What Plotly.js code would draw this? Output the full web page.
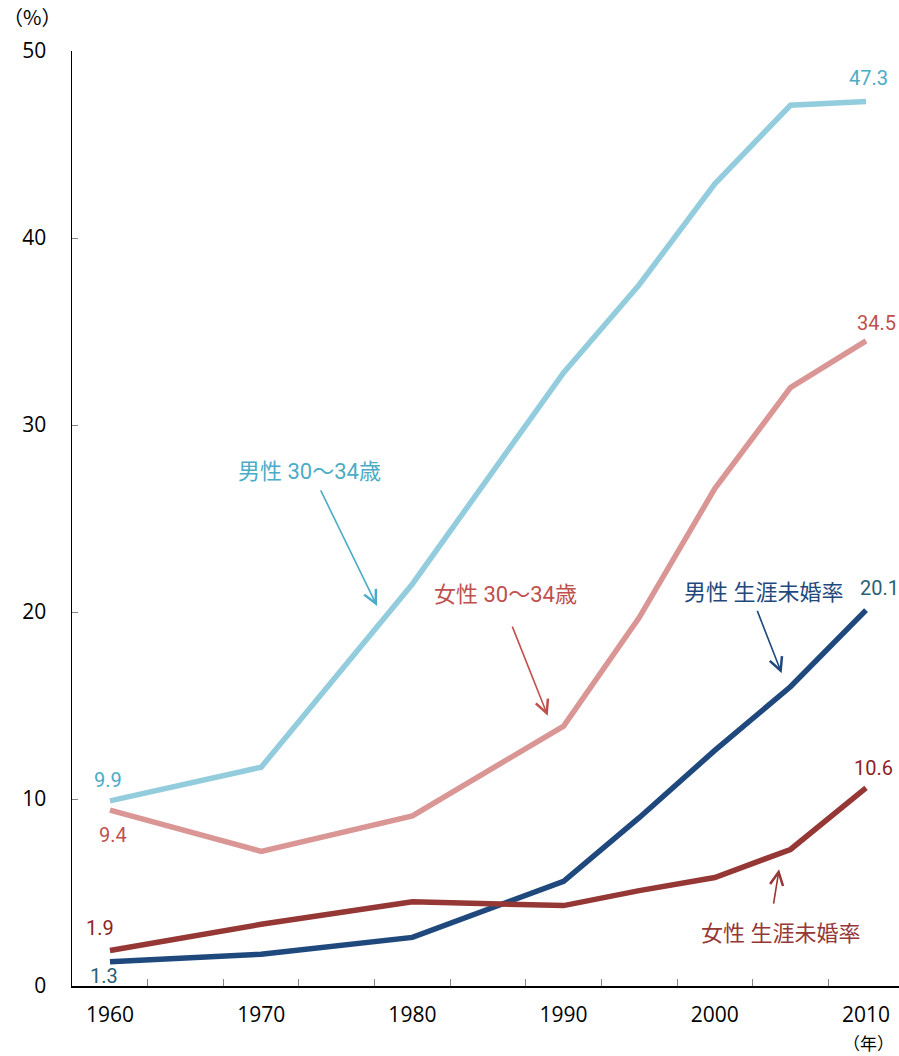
<!DOCTYPE html>
<html>
<head>
<meta charset="utf-8">
<script src="https://cdn.plot.ly/plotly-3.0.1.min.js"></script>
<style>html,body{margin:0;padding:0;background:#fff;}#chart{width:899px;height:1056px;}</style>
</head>
<body>
<div id="chart"></div>
<script>
// ---- data ----
const years = [1960, 1970, 1980, 1990, 1995, 2000, 2005, 2010];
const male3034 = [9.9, 11.7, 21.5, 32.8, 37.5, 42.9, 47.1, 47.3];
const female3034 = [9.4, 7.2, 9.1, 13.9, 19.7, 26.6, 32.0, 34.5];
const maleLifetime = [1.3, 1.7, 2.6, 5.6, 9.0, 12.6, 16.0, 20.1];
const femaleLifetime = [1.9, 3.3, 4.5, 4.3, 5.1, 5.8, 7.3, 10.6];
const xTickLabels = ['1960', '1970', '1980', '1990', '2000', '2010'];
const xTickVals = [1960, 1970, 1980, 1990, 2000, 2010];
const xMinorTicks = [1962.5, 1967.5, 1972.5, 1977.5, 1982.5, 1987.5, 1992.5, 1997.5, 2002.5, 2007.5];
const yTickVals = [0, 10, 20, 30, 40, 50];
const seriesNames = ['男性 30〜34歳', '女性 30〜34歳', '男性 生涯未婚率', '女性 生涯未婚率'];

const lineColors = ['#93CDDD', '#D99694', '#1F497D', '#953735'];
const labelColors = ['#4BACC6', '#C0504D', '#2A6073', '#8E1F1F'];
const nameColors = ['#4BACC6', '#C0504D', '#1F497D', '#953735'];
const seriesData = [male3034, female3034, maleLifetime, femaleLifetime];

const traces = seriesData.map((ys, i) => ({
  x: years, y: ys, type: 'scatter', mode: 'lines',
  name: seriesNames[i],
  line: {color: lineColors[i], width: 5.5},
  hoverinfo: 'x+y'
}));

const numFont = 'Roboto, "Noto Sans CJK JP", sans-serif';
const cjkFont = 'Roboto, "Noto Sans CJK JP", sans-serif';

// data label offsets (pixels) for first and last points
const firstShift = [[-2, 21], [3, -25], [-6, -14], [-10, 22]];
const lastShift = [[2, 23], [10, 18], [13, 22], [7, 20]];

const annotations = [];
seriesData.forEach((ys, i) => {
  const n = ys.length - 1;
  annotations.push({x: years[0], y: ys[0], xref: 'x', yref: 'y', text: ys[0].toFixed(1),
    showarrow: false, xshift: firstShift[i][0], yshift: firstShift[i][1],
    font: {family: numFont, size: 20, color: labelColors[i]}});
  annotations.push({x: years[n], y: ys[n], xref: 'x', yref: 'y', text: ys[n].toFixed(1),
    showarrow: false, xshift: lastShift[i][0], yshift: lastShift[i][1],
    font: {family: numFont, size: 20, color: labelColors[i]}});
});

// series name labels
const namePos = [[1973.17, 27.53], [1986.18, 20.96], [2003.25, 21.02], [2004.34, 2.83]];
// arrows: [tailX, tailY, tipX, tipY]
const arrows = [
  [1973.89, 26.58, 1977.66, 20.32],
  [1986.57, 19.30, 1988.95, 14.45],
  [2002.77, 20.14, 2004.42, 16.72],
  [2003.87, 4.33, 2004.25, 6.24]
];
seriesNames.forEach((nm, i) => {
  annotations.push({x: namePos[i][0], y: namePos[i][1], xref: 'x', yref: 'y', text: nm,
    showarrow: false, font: {family: cjkFont, size: 22, color: nameColors[i]}});
  const a = arrows[i];
  annotations.push({x: a[2], y: a[3], ax: a[0], ay: a[1], xref: 'x', yref: 'y',
    axref: 'x', ayref: 'y', text: '', showarrow: true, arrowhead: 5, arrowsize: 1.6,
    arrowwidth: 1.6, arrowcolor: nameColors[i], standoff: 0});
});

annotations.push({x: -0.0484, y: 1.0374, xref: 'paper', yref: 'paper', xanchor: 'center', yanchor: 'middle',
  text: '（%）', showarrow: false, font: {family: '"Noto Sans CJK JP", sans-serif', size: 20, color: '#000'}});
annotations.push({x: 0.9637, y: -0.0605, xref: 'paper', yref: 'paper', xanchor: 'center', yanchor: 'middle',
  text: '（年）', showarrow: false, font: {family: '"Noto Sans CJK JP", sans-serif', size: 17, color: '#000'}});

const tickFont = {family: '"Open Sans", sans-serif', size: 21, color: '#000'};

const layout = {
  width: 899, height: 1056,
  margin: {l: 72, r: 0, t: 51, b: 70},
  paper_bgcolor: '#fff', plot_bgcolor: '#fff',
  showlegend: false,
  xaxis: {
    range: [1957.49, 2012.18], showgrid: false, zeroline: false,
    showline: true, linecolor: '#000', linewidth: 1.5,
    tickmode: 'array', tickvals: xTickVals, ticktext: xTickLabels,
    ticks: '', ticklabelstandoff: 9, tickfont: tickFont,
    minor: {tickmode: 'array', tickvals: xMinorTicks, ticks: 'inside', ticklen: 7, tickcolor: '#868686', tickwidth: 1, showgrid: false}
  },
  yaxis: {
    range: [0, 50], showgrid: false, zeroline: false,
    showline: true, linecolor: '#000', linewidth: 1.5,
    tickmode: 'array', tickvals: yTickVals,
    ticks: 'inside', ticklen: 6, tickcolor: '#868686', tickwidth: 1,
    ticklabelstandoff: 20, tickfont: tickFont
  },
  annotations: annotations
};

Plotly.newPlot('chart', traces, layout, {displayModeBar: false, staticPlot: true});
</script>
</body>
</html>
